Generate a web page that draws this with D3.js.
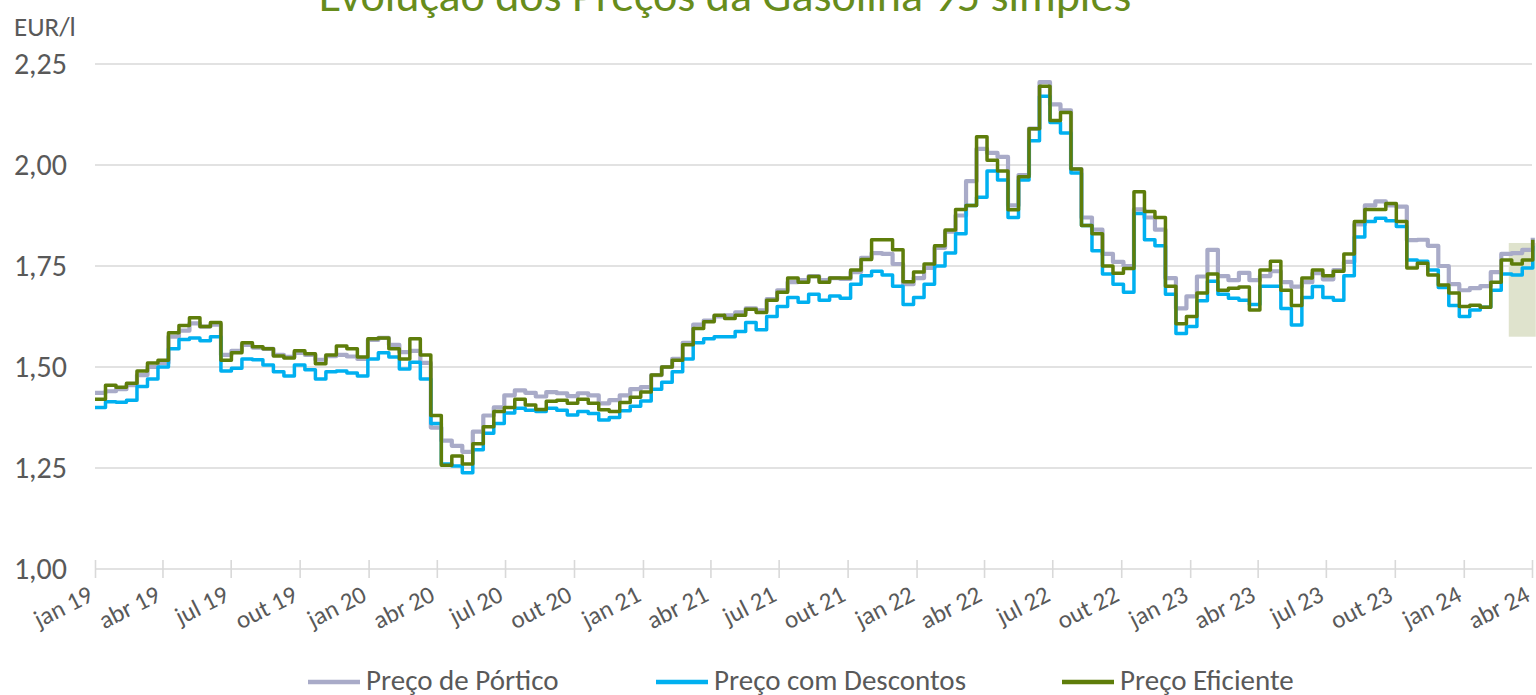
<!DOCTYPE html>
<html><head><meta charset="utf-8">
<script src="https://cdn.jsdelivr.net/npm/d3@7"></script>
<style>body{margin:0;background:#fff;overflow:hidden;} svg{display:block;} text{font-family:Carlito, Lato, sans-serif;font-weight:300;}</style>
</head><body><svg id="chart" width="1536" height="695"></svg>
<script>
const titleText = "Evolução dos Preços da Gasolina 95 simples";
const unitLabel = "EUR/l";
const seriesNames = ["Preço de Pórtico", "Preço com Descontos", "Preço Eficiente"];
const seriesColors = ["#a9abc8", "#00b0f0", "#5e7d0a"];
const startDate = "2019-01-01";
const stepDays = 14;

const porticoValues = [
1.436,1.44,1.445,1.455,1.48,1.50,1.51,1.575,1.59,1.608,
1.60,1.605,1.53,1.54,1.555,1.548,1.545,1.53,1.525,1.535,
1.53,1.518,1.527,1.53,1.526,1.52,1.567,1.572,1.555,1.537,
1.54,1.51,1.35,1.318,1.305,1.29,1.34,1.38,1.40,1.43,
1.442,1.436,1.427,1.438,1.435,1.428,1.435,1.43,1.41,1.418,
1.43,1.445,1.45,1.48,1.50,1.52,1.56,1.605,1.615,1.625,
1.628,1.635,1.645,1.64,1.668,1.69,1.71,1.715,1.725,1.715,
1.72,1.718,1.735,1.77,1.782,1.78,1.755,1.705,1.72,1.745,
1.795,1.835,1.875,1.96,2.04,2.03,2.02,1.90,1.975,2.09,
2.205,2.15,2.135,1.99,1.87,1.84,1.78,1.76,1.75,1.89,
1.87,1.84,1.72,1.645,1.675,1.724,1.79,1.725,1.715,1.733,
1.715,1.725,1.737,1.71,1.699,1.71,1.732,1.717,1.74,1.76,
1.853,1.90,1.91,1.90,1.897,1.814,1.815,1.80,1.75,1.705,
1.69,1.695,1.70,1.735,1.78,1.782,1.79,1.82];

const descontosValues = [
1.40,1.414,1.413,1.418,1.452,1.47,1.50,1.545,1.568,1.572,
1.565,1.575,1.49,1.497,1.52,1.518,1.505,1.488,1.478,1.505,
1.493,1.47,1.488,1.49,1.485,1.478,1.52,1.535,1.525,1.495,
1.512,1.47,1.36,1.26,1.255,1.238,1.295,1.336,1.36,1.386,
1.398,1.393,1.39,1.398,1.393,1.381,1.39,1.385,1.369,1.375,
1.392,1.403,1.416,1.445,1.462,1.488,1.52,1.56,1.57,1.575,
1.575,1.588,1.61,1.592,1.625,1.65,1.672,1.66,1.68,1.665,
1.676,1.67,1.705,1.726,1.737,1.728,1.70,1.655,1.672,1.705,
1.75,1.782,1.83,1.90,1.92,1.985,1.963,1.87,1.963,2.06,
2.17,2.105,2.079,1.98,1.85,1.788,1.73,1.705,1.685,1.88,
1.815,1.80,1.68,1.583,1.60,1.664,1.712,1.68,1.67,1.665,
1.655,1.70,1.70,1.645,1.604,1.672,1.699,1.672,1.665,1.726,
1.822,1.86,1.868,1.862,1.848,1.765,1.762,1.74,1.697,1.652,
1.625,1.641,1.648,1.69,1.73,1.728,1.745,1.80];

const eficienteValues = [
1.42,1.455,1.45,1.46,1.49,1.51,1.517,1.585,1.603,1.622,
1.60,1.61,1.517,1.535,1.56,1.55,1.545,1.527,1.522,1.54,
1.533,1.508,1.53,1.552,1.545,1.525,1.57,1.572,1.545,1.52,
1.57,1.53,1.38,1.257,1.28,1.26,1.31,1.352,1.39,1.40,
1.42,1.406,1.395,1.415,1.418,1.41,1.42,1.41,1.394,1.39,
1.412,1.425,1.438,1.48,1.50,1.517,1.555,1.595,1.612,1.628,
1.62,1.628,1.643,1.635,1.665,1.685,1.72,1.71,1.724,1.71,
1.72,1.72,1.74,1.766,1.815,1.815,1.79,1.711,1.735,1.755,
1.80,1.839,1.89,1.90,2.07,2.012,1.985,1.889,1.971,2.09,
2.195,2.11,2.13,1.99,1.85,1.83,1.75,1.732,1.744,1.934,
1.885,1.87,1.70,1.607,1.625,1.683,1.73,1.69,1.695,1.698,
1.641,1.74,1.762,1.69,1.652,1.72,1.74,1.726,1.737,1.78,
1.86,1.89,1.89,1.905,1.86,1.745,1.757,1.728,1.703,1.683,
1.65,1.653,1.648,1.71,1.765,1.755,1.765,1.815];

const xTickLabels = ["jan 19","abr 19","jul 19","out 19","jan 20","abr 20","jul 20","out 20",
  "jan 21","abr 21","jul 21","out 21","jan 22","abr 22","jul 22","out 22",
  "jan 23","abr 23","jul 23","out 23","jan 24","abr 24"];
const xDomain = ["2019-01-01", "2024-04-01"];
const yTicks = [1.00, 1.25, 1.50, 1.75, 2.00, 2.25];
const highlightDates = ["2024-03-01", "2024-04-06"];
const highlightValues = [1.575, 1.807];

const parse = d3.timeParse("%Y-%m-%d");
const t0 = parse(startDate);
const dates = porticoValues.map((_, i) => d3.timeDay.offset(t0, i * stepDays));
const series = [porticoValues, descontosValues, eficienteValues];

const svg = d3.select("#chart");
const x = d3.scaleTime().domain(xDomain.map(parse)).range([95, 1532]);
const y = d3.scaleLinear().domain([1, 2.25]).range([569, 64]);
const fmt = v => d3.format(".2f")(v).replace(".", ",");
const textColor = "#595959";
const ff = "Carlito, Lato, sans-serif";

// title
svg.append("text").attr("x", 725).attr("y", 11).attr("text-anchor", "middle")
  .attr("fill", "#678c1c").style("font-size", "46px").text(titleText);

// unit
svg.append("text").attr("x", 14).attr("y", 36).attr("fill", textColor)
  .style("font-size", "27px").text(unitLabel);

// gridlines
svg.append("g").selectAll("line").data(yTicks).join("line")
  .attr("x1", 95).attr("x2", 1532)
  .attr("y1", d => y(d)).attr("y2", d => y(d))
  .attr("stroke", "#d9d9d9").attr("stroke-width", 1.6);

// y labels
const yAxis = d3.axisLeft(y).tickValues(yTicks).tickFormat(fmt).tickSize(0).tickPadding(0);
const gy = svg.append("g").attr("transform", "translate(67,0)").call(yAxis);
gy.select(".domain").remove();
gy.selectAll("text").attr("fill", textColor).style("font-size", "30px").style("font-family", ff).style("font-weight", 300);

// x axis ticks
const quarterDates = d3.timeMonth.every(3).range(parse(xDomain[0]), d3.timeDay.offset(parse(xDomain[1]), 1));
const xAxis = d3.axisBottom(x).tickValues(quarterDates).tickFormat((d, i) => xTickLabels[i]).tickSize(9).tickPadding(0);
const gx = svg.append("g").attr("transform", "translate(0,569)").call(xAxis);
gx.select(".domain").remove();
gx.selectAll(".tick line").attr("y1", -9).attr("y2", 9).attr("stroke", "#d9d9d9").attr("stroke-width", 1.6);
gx.selectAll(".tick text")
  .attr("fill", textColor).style("font-size", "25px").style("font-family", ff).style("font-weight", 300)
  .attr("text-anchor", "end").attr("dy", null).attr("y", 0)
  .attr("transform", "translate(-1,31) rotate(-27)");

// highlight box
svg.append("rect")
  .attr("x", x(parse(highlightDates[0])))
  .attr("width", x(parse(highlightDates[1])) - x(parse(highlightDates[0])))
  .attr("y", y(highlightValues[1]))
  .attr("height", y(highlightValues[0]) - y(highlightValues[1]))
  .attr("fill", "#dfe3cd");

// lines
const widths = [4.2, 3.5, 3.5];
const line = d3.line().x((d, i) => x(dates[i])).y(d => y(d)).curve(d3.curveStepAfter);
series.forEach((vals, k) => {
  svg.append("path").datum(vals).attr("d", line)
    .attr("fill", "none").attr("stroke", seriesColors[k])
    .attr("stroke-width", widths[k]).attr("stroke-linejoin", "round");
});

// legend
const legendX = [308, 656, 1062];
seriesNames.forEach((name, k) => {
  svg.append("line").attr("x1", legendX[k]).attr("x2", legendX[k] + 52)
    .attr("y1", 682).attr("y2", 682).attr("stroke", seriesColors[k]).attr("stroke-width", 4.5);
  svg.append("text").attr("x", legendX[k] + 58).attr("y", 690).attr("fill", textColor)
    .style("font-size", "29px").text(name);
});
</script></body></html>
